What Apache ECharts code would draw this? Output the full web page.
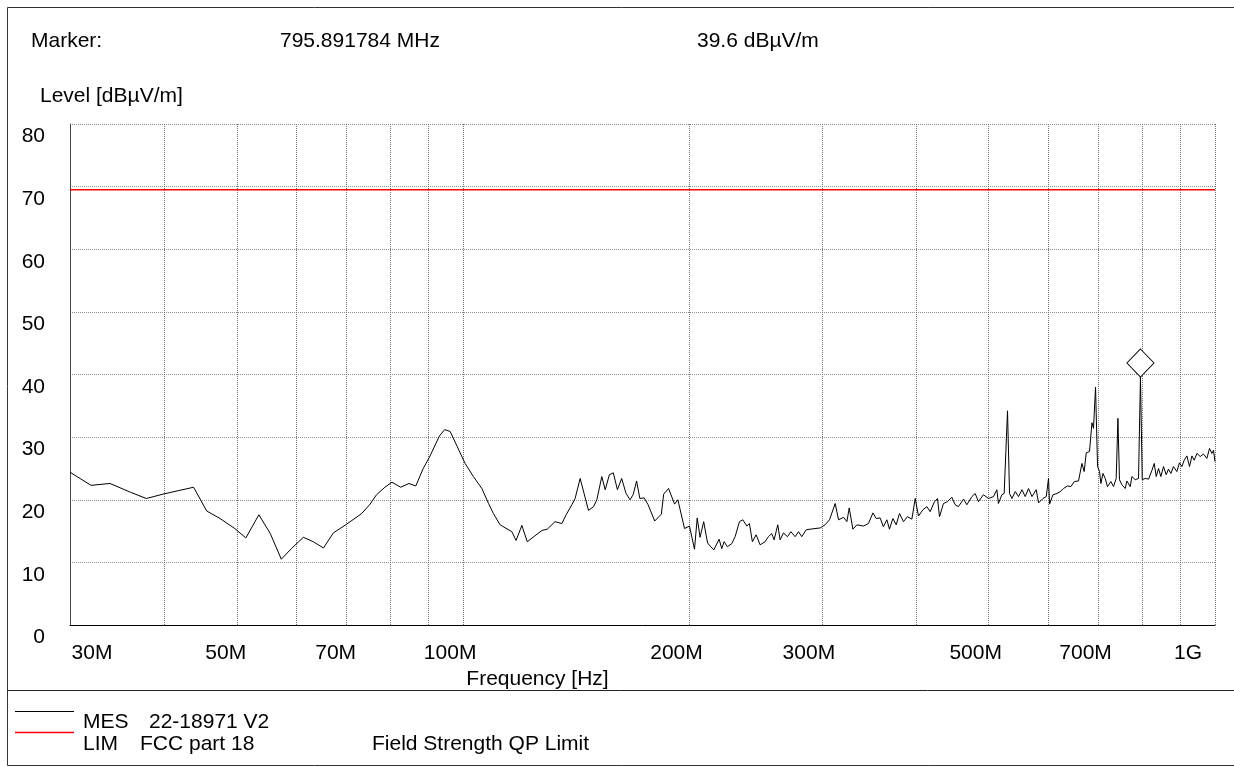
<!DOCTYPE html>
<html>
<head>
<meta charset="utf-8">
<title>Field strength scan</title>
<script src="https://cdn.jsdelivr.net/npm/echarts@6/dist/echarts.min.js"></script>
<style>
html, body { margin: 0; padding: 0; background: #fff; }
#chart { width: 1234px; height: 767px; }
</style>
</head>
<body>
<div id="chart"></div>
<script>
// MES trace (frequency in MHz, level in dBµV/m)
const freqMHz = [
  30.0, 32.0, 33.9, 36.1, 37.9, 39.9, 43.8, 45.6, 47.5, 49.7,
  51.4, 53.5, 55.4, 57.3, 59.1, 61.3, 63.2, 65.2, 67.2, 70.0,
  73.3, 75.2, 76.7, 78.7, 80.4, 82.6, 84.7, 86.5, 88.5, 90.2,
  93.0, 94.5, 96.1, 98.2, 100.6, 103.2, 105.9, 108.1, 109.7, 112.0,
  116.1, 117.6, 119.7, 121.7, 127.3, 129.4, 132.5, 135.3, 137.1, 139.5,
  140.9, 143.1, 146.8, 149.1, 150.6, 152.9, 154.5, 156.5, 158.4, 160.4,
  162.5, 164.7, 166.7, 168.3, 170.1, 171.8, 174.1, 176.2, 179.8, 183.5,
  184.8, 187.6, 191.1, 193.0, 197.0, 200.0, 203.1, 204.8, 206.6, 208.9,
  211.4, 213.1, 215.5, 219.0, 220.8, 222.4, 224.6, 227.7, 230.0, 233.1,
  235.5, 238.4, 240.3, 242.5, 245.3, 248.3, 252.1, 254.7, 257.3, 259.2,
  262.1, 264.0, 266.7, 270.0, 272.8, 276.4, 279.3, 282.1, 285.9, 289.4,
  293.8, 298.5, 303.0, 307.1, 312.5, 315.7, 320.6, 323.9, 326.2, 329.9,
  334.0, 340.8, 346.0, 350.8, 354.3, 358.6, 362.2, 366.1, 369.0, 372.9,
  376.7, 380.5, 385.2, 389.9, 395.2, 399.3, 403.3, 408.8, 413.8, 418.0,
  423.6, 427.5, 430.1, 435.4, 440.8, 446.7, 451.2, 455.8, 463.0, 467.7,
  475.0, 479.7, 484.6, 492.1, 499.6, 507.4, 512.7, 515.2, 520.6, 524.3,
  529.7, 533.0, 536.9, 542.4, 547.9, 553.7, 559.2, 564.9, 570.9, 578.4,
  582.5, 590.4, 596.4, 600.6, 602.5, 608.8, 616.3, 622.6, 628.9, 636.6,
  643.2, 649.8, 658.4, 665.3, 669.9, 674.1, 680.9, 686.0, 689.3, 693.6,
  697.9, 702.2, 705.1, 709.6, 714.5, 719.5, 727.1, 732.8, 738.9, 742.8,
  746.4, 751.9, 759.6, 763.5, 771.3, 775.3, 783.2, 791.2, 795.9, 800.3,
  807.7, 815.9, 824.4, 830.2, 835.3, 841.2, 847.2, 854.1, 861.2, 867.3,
  873.6, 880.6, 889.8, 896.9, 903.6, 909.9, 917.6, 925.0, 931.8, 938.3,
  946.1, 955.7, 965.4, 975.5, 983.3, 990.6, 995.4, 1000.0
];
const levelDb = [
  24.4, 22.3, 22.6, 21.2, 20.2, 20.9, 22.0, 18.2, 17.0, 15.4,
  13.9, 17.6, 14.6, 10.5, 12.2, 14.0, 13.3, 12.3, 14.7, 16.1,
  17.8, 19.3, 20.8, 22.0, 22.8, 22.0, 22.6, 22.2, 25.0, 26.8,
  30.2, 31.2, 30.9, 28.5, 25.8, 23.7, 21.8, 19.4, 17.8, 16.0,
  14.9, 13.5, 15.9, 13.3, 15.1, 15.3, 16.5, 16.2, 17.6, 19.2,
  20.2, 23.4, 18.3, 18.9, 20.0, 23.7, 21.6, 24.0, 24.3, 21.6,
  23.4, 21.0, 20.0, 20.8, 23.0, 20.2, 20.3, 19.2, 16.6, 17.7,
  20.9, 21.8, 19.3, 20.0, 15.4, 15.8, 12.1, 17.1, 14.0, 16.5,
  13.1, 12.6, 12.0, 13.7, 12.2, 13.3, 12.5, 13.0, 14.1, 16.5,
  16.8, 15.8, 16.2, 13.3, 14.4, 12.8, 13.3, 14.1, 14.6, 13.6,
  16.0, 13.6, 14.7, 14.1, 14.9, 14.1, 14.9, 14.1, 15.2, 15.3,
  15.4, 15.5, 16.0, 16.8, 19.4, 16.8, 17.2, 16.5, 18.7, 15.3,
  16.0, 15.8, 16.2, 17.9, 17.0, 17.1, 15.7, 16.8, 15.3, 17.0,
  16.0, 17.8, 16.5, 17.3, 16.9, 20.2, 17.4, 18.4, 18.9, 18.1,
  19.7, 20.2, 17.3, 19.4, 19.7, 20.4, 19.2, 18.9, 20.1, 19.2,
  20.5, 21.0, 19.7, 20.8, 20.2, 20.5, 21.6, 19.4, 20.8, 21.0,
  34.2, 21.0, 20.2, 21.3, 20.5, 21.6, 20.5, 21.8, 20.5, 21.6,
  19.5, 20.2, 20.5, 23.4, 19.3, 20.8, 21.0, 21.3, 21.8, 22.2,
  22.1, 22.9, 23.0, 25.8, 24.5, 27.5, 27.7, 32.3, 31.4, 38.0,
  25.3, 24.5, 22.6, 24.2, 23.4, 22.1, 22.9, 22.1, 23.4, 33.0,
  23.2, 22.4, 21.8, 23.0, 22.1, 23.7, 23.2, 23.4, 39.6, 23.2,
  23.4, 23.3, 24.7, 25.8, 23.7, 25.0, 23.7, 25.3, 24.0, 24.9,
  24.2, 25.3, 24.5, 25.9, 25.3, 26.3, 27.0, 25.3, 27.0, 26.3,
  27.4, 26.9, 27.3, 26.6, 28.2, 27.4, 27.9, 26.1
];

// LIM line (FCC part 18)
const limitFreqMHz = [30, 1000];
const limitDb = [69.5, 69.5];

const markerFreqMHz = 795.891784;
const markerDb = 39.6;

// frequency grid and labelled ticks
const gridFreqMHz = [30, 40, 50, 60, 70, 80, 90, 100, 200, 300, 400, 500, 600, 700, 800, 900, 1000];
const labelFreqMHz = [30, 50, 70, 100, 200, 300, 500, 700, 1000];
const labelText = ['30M', '50M', '70M', '100M', '200M', '300M', '500M', '700M', '1G'];

// --- styling ---
const FONT = '"Liberation Sans", Arial, sans-serif';
const FS = 21;
// horizontal nudge of each frequency label (px), like the original print
const labelNudge = [22, -11, -11, -13, -13, -13, -13, -13, -27];

const lg = v => Math.log10(v);

const rich = {};
labelNudge.forEach((d, i) => {
  rich['t' + i] = {
    fontFamily: FONT, fontSize: FS, color: '#000',
    padding: d > 0 ? [0, 0, 0, 2 * d] : [0, -2 * d, 0, 0]
  };
});

const myChart = echarts.init(document.getElementById('chart'));

const option = {
  animation: false,
  backgroundColor: '#fff',
  textStyle: { fontFamily: FONT },
  grid: { left: 70, right: 19, top: 124, bottom: 142, containLabel: false },
  xAxis: {
    type: 'value',
    min: lg(30),
    max: lg(1000),
    name: 'Frequency [Hz]',
    nameLocation: 'middle',
    nameGap: 44,
    nameTextStyle: { fontFamily: FONT, fontSize: FS, color: '#000', padding: [0, 210, 0, 0] },
    axisLine: { lineStyle: { color: '#000', width: 1 } },
    axisTick: { show: false, customValues: gridFreqMHz.map(lg) },
    axisLabel: {
      customValues: labelFreqMHz.map(lg),
      margin: 18,
      formatter: v => {
        const i = labelFreqMHz.findIndex(f => Math.abs(lg(f) - v) < 1e-6);
        return i < 0 ? '' : '{t' + i + '|' + labelText[i] + '}';
      },
      rich: rich
    },
    splitLine: { show: true, lineStyle: { color: '#707070', width: 1, type: [1, 1] } }
  },
  yAxis: {
    type: 'value',
    min: 0,
    max: 80,
    interval: 10,
    axisLine: { show: true, lineStyle: { color: '#444', width: 1 } },
    axisTick: { show: false },
    axisLabel: {
      fontFamily: FONT, fontSize: FS, color: '#000',
      margin: 25, align: 'right', verticalAlign: 'top', padding: [2, 0, 0, 0]
    },
    splitLine: { show: true, lineStyle: { color: '#909090', width: 1, type: [1, 1] } }
  },
  series: [
    {
      name: 'LIM',
      type: 'line',
      data: limitFreqMHz.map((f, i) => [lg(f), limitDb[i]]),
      showSymbol: false,
      lineStyle: { color: '#ff0000', width: 1.5 },
      z: 3
    },
    {
      name: 'MES',
      type: 'line',
      data: freqMHz.map((f, i) => [lg(f), levelDb[i]]),
      showSymbol: false,
      lineStyle: { color: '#000', width: 1 },
      z: 4,
      markPoint: {
        symbol: 'diamond',
        symbolSize: [27, 28],
        symbolOffset: [0, '-50%'],
        itemStyle: { color: '#fff', borderColor: '#000', borderWidth: 1 },
        label: { show: false },
        data: [{ coord: [lg(markerFreqMHz), markerDb] }]
      }
    }
  ],
  graphic: [
    // frame and the rule above the legend block
    { type: 'rect', silent: true, shape: { x: 7.5, y: 7.5, width: 1240, height: 758 },
      style: { fill: null, stroke: '#333', lineWidth: 1 } },
    { type: 'line', silent: true, shape: { x1: 7.5, y1: 690.5, x2: 1234, y2: 690.5 },
      style: { stroke: '#222', lineWidth: 1 } },
    // header
    { type: 'text', left: 31, top: 31, style: { text: 'Marker:', font: FS + 'px ' + FONT, fill: '#000' } },
    { type: 'text', left: 280, top: 31, style: { text: markerFreqMHz.toFixed(6) + ' MHz', font: FS + 'px ' + FONT, fill: '#000' } },
    { type: 'text', left: 697, top: 31, style: { text: markerDb.toFixed(1) + ' dBµV/m', font: FS + 'px ' + FONT, fill: '#000' } },
    { type: 'text', left: 40, top: 86, style: { text: 'Level [dBµV/m]', font: FS + 'px ' + FONT, fill: '#000' } },
    // legend
    { type: 'line', silent: true, shape: { x1: 15, y1: 711.5, x2: 74, y2: 711.5 }, style: { stroke: '#000', lineWidth: 1 } },
    { type: 'line', silent: true, shape: { x1: 15, y1: 732.5, x2: 74, y2: 732.5 }, style: { stroke: '#ff0000', lineWidth: 1.5 } },
    { type: 'text', left: 83, top: 712, style: { text: 'MES', font: FS + 'px ' + FONT, fill: '#000' } },
    { type: 'text', left: 149, top: 712, style: { text: '22-18971 V2', font: FS + 'px ' + FONT, fill: '#000' } },
    { type: 'text', left: 83, top: 734, style: { text: 'LIM', font: FS + 'px ' + FONT, fill: '#000' } },
    { type: 'text', left: 140, top: 734, style: { text: 'FCC part 18', font: FS + 'px ' + FONT, fill: '#000' } },
    { type: 'text', left: 372, top: 734, style: { text: 'Field Strength QP Limit', font: FS + 'px ' + FONT, fill: '#000' } }
  ]
};

myChart.setOption(option);
</script>
</body>
</html>
